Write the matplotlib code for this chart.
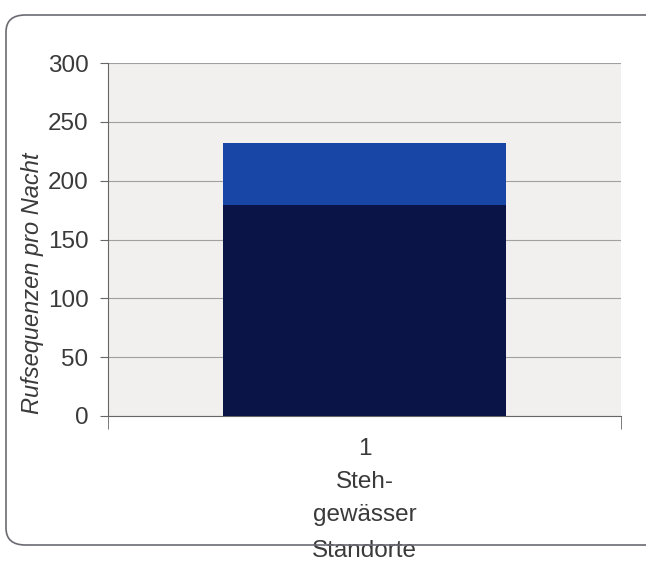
import matplotlib.pyplot as plt
from matplotlib.patches import FancyBboxPatch

plt.rcParams['font.family'] = ['Liberation Sans', 'DejaVu Sans']

categories = ['1\nSteh-\ngewässer']
unten = [179]
oben = [53]
yticks = [0, 50, 100, 150, 200, 250, 300]

fig = plt.figure(figsize=(6.46, 5.67), dpi=100)
ax = fig.add_axes([108 / 646, 1 - 416 / 567, (621 - 108) / 646, (416 - 63) / 567])

# Rahmen um die Grafik
rahmen = FancyBboxPatch((6 / 646, 1 - 545 / 567), 700 / 646, 530 / 567,
                        boxstyle='round,pad=0,rounding_size=0.03',
                        transform=fig.transFigure, fill=False,
                        edgecolor='#6a6a72', linewidth=1.2, clip_on=False)
fig.patches.append(rahmen)

x = range(len(categories))
ax.bar(x, unten, width=0.553, color='#0b1447', zorder=3)
ax.bar(x, oben, bottom=unten, width=0.553, color='#1746a6', zorder=3)

ax.set_xlim(-0.5, 0.5)
ax.set_ylim(0, 300)
ax.set_yticks(yticks)
ax.set_facecolor('#f1f0ee')
ax.grid(axis='y', color='#a0a0a0', linewidth=0.8, zorder=0)

for s in ['top', 'right']:
    ax.spines[s].set_visible(False)
ax.spines['left'].set_color('#666666')
ax.spines['bottom'].set_color('#666666')

ax.set_xticks([-0.5, 0.5], minor=True)
ax.tick_params(axis='x', which='minor', length=9, color='#666666')
ax.tick_params(axis='x', which='major', length=0, pad=16)
ax.set_xticks(list(x))
ax.set_xticklabels(categories, fontsize=17.5, color='#3a3a3a', linespacing=1.65)
ax.tick_params(axis='y', length=6, color='#666666', labelsize=17.5, labelcolor='#3a3a3a', pad=8)

ax.set_ylabel('Rufsequenzen pro Nacht', fontsize=17, style='italic', color='#3a3a3a')
ax.yaxis.set_label_coords(-0.125, 0.377)
ax.set_xlabel('Standorte', fontsize=17.5, color='#3a3a3a')
ax.xaxis.set_label_coords(0.5, -0.352)

plt.savefig('out.png', dpi=100)
